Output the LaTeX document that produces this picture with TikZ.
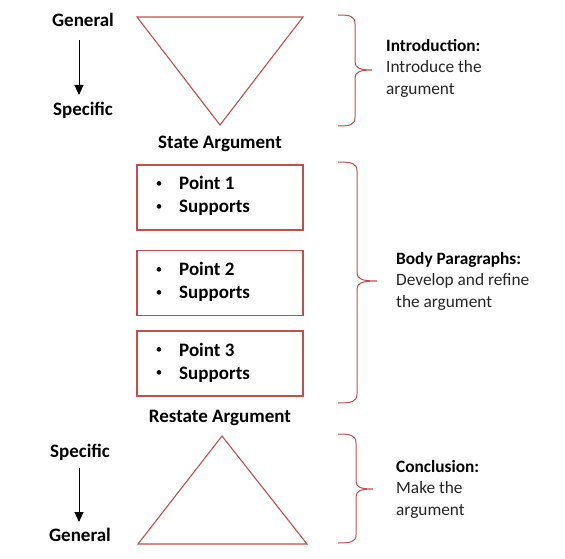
\documentclass[tikz,border=0pt]{standalone}
\usepackage{fontspec}
\setmainfont{Carlito}
\usetikzlibrary{arrows.meta}
\definecolor{ored}{RGB}{192,80,77}
\definecolor{txt}{RGB}{38,38,38}
\begin{document}
\begin{tikzpicture}[x=1bp,y=-1bp,
  lbl/.style={font=\fontsize{19bp}{22bp}\selectfont\bfseries, text=black, inner sep=0pt},
  bul/.style={font=\fontsize{13bp}{15bp}\selectfont, text=black, inner sep=0pt},
  side/.style={font=\fontsize{17.3bp}{21.5bp}\selectfont, text=txt, align=left, anchor=west, inner sep=0pt},
  tri/.style={draw=ored, line width=1.1bp},
  brace/.style={draw=ored, line width=1bp},
  flow/.style={line width=0.9bp, -{Triangle[length=10bp,width=9bp]}},
  ptbox/.style={draw=ored, line width=1.1bp, minimum width=166bp, minimum height=65bp, inner sep=0pt}]
\useasboundingbox (0,0) rectangle (565,559);
% left labels
\node[lbl] (gen1) at (83,20) {General};
\node[lbl] (spec1) at (83,110) {Specific};
\coordinate (a1s) at (79,40);
\coordinate (a1e) at (79,95);
\draw[flow] (a1s) -- (a1e);
\node[lbl] (spec2) at (80,452) {Specific};
\node[lbl] (gen2) at (80,535) {General};
\coordinate (a2s) at (79,468);
\coordinate (a2e) at (79,522);
\draw[flow] (a2s) -- (a2e);
% top triangle
\draw[tri] (137,17) coordinate (t1a) -- (303,17) coordinate (t1b) -- (220,125) coordinate (t1c) -- cycle;
\node[lbl] (state) at (220,144) {State Argument};
% boxes
\node[ptbox] (b1) at (220,197.5) {};
\node[ptbox] (b2) at (220,283) {};
\node[ptbox] (b3) at (220,363.5) {};
\foreach \b/\n in {b1/1,b2/2,b3/3}{
  \node[lbl, anchor=base west] (\b p) at ([xshift=-41bp,yshift=7.5bp]\b.center) {Point \n};
  \node[lbl, anchor=base west] (\b s) at ([xshift=-41bp,yshift=-15.5bp]\b.center) {Supports};
  \node[bul] (\b pb) at ([xshift=-61bp,yshift=12.5bp]\b.center) {\textbullet};
  \node[bul] (\b sb) at ([xshift=-61bp,yshift=-10.5bp]\b.center) {\textbullet};
}
\node[lbl] (restate) at (220,418) {Restate Argument};
% bottom triangle
\draw[tri] (222,436) coordinate (t2a) -- (307,544) coordinate (t2b) -- (138,544) coordinate (t2c) -- cycle;
% braces
\draw[brace] (338,15) .. controls (350,15) and (355,16) .. (355,24) -- (355,62)
  .. controls (355,68) and (360,70) .. (372,70)
  .. controls (360,70) and (355,72) .. (355,78) -- (355,117)
  .. controls (355,125) and (350,126) .. (338,126);
\draw[brace] (338,162) .. controls (351,162) and (357,163) .. (357,171) -- (357,273)
  .. controls (357,279) and (362,281) .. (377,281)
  .. controls (362,281) and (357,283) .. (357,289) -- (357,394)
  .. controls (357,402) and (351,403) .. (338,403);
\draw[brace] (338,434) .. controls (350,434) and (356,435) .. (356,443) -- (356,481)
  .. controls (356,487) and (360,489) .. (373,489)
  .. controls (360,489) and (356,491) .. (356,497) -- (356,535)
  .. controls (356,542) and (350,543) .. (338,543);
% side texts
\node[side] (intro) at (386,68) {\textbf{\color{black}Introduction:}\\Introduce the\\argument};
\node[side] (body) at (396,281) {\textbf{\color{black}Body Paragraphs:}\\Develop and refine\\the argument};
\node[side] (concl) at (396,489) {\textbf{\color{black}Conclusion:}\\Make the\\argument};
\end{tikzpicture}
\end{document}
